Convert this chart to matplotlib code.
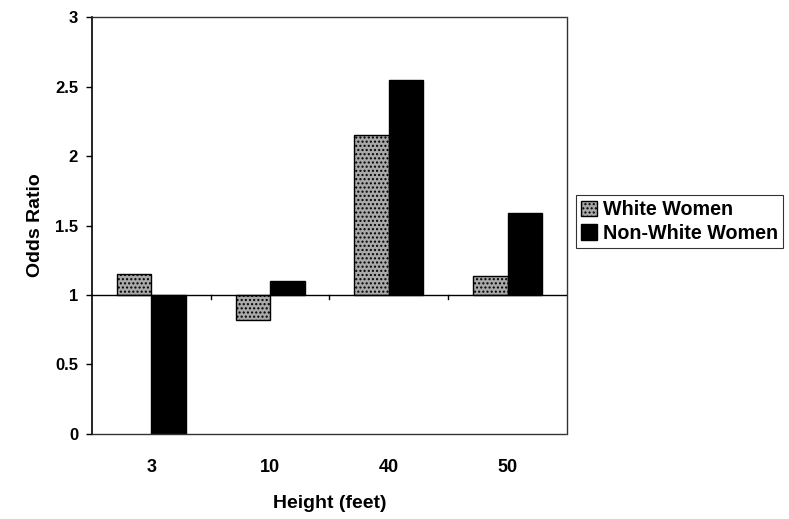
import numpy as np
import matplotlib
matplotlib.use('Agg')
import matplotlib.pyplot as plt

plt.rcParams['font.family'] = ['Liberation Sans Narrow', 'Liberation Sans', 'DejaVu Sans']
plt.rcParams['font.weight'] = 'bold'

heights = ['3', '10', '40', '50']
white_women = [1.15, 0.82, 2.15, 1.14]
nonwhite_women = [0.0, 1.10, 2.55, 1.59]
y_ticks = [0, 0.5, 1, 1.5, 2, 2.5, 3]
y_labels = ['0', '0.5', '1', '1.5', '2', '2.5', '3']
baseline = 1.0

fig = plt.figure(figsize=(7.89, 5.19), dpi=100)
ax = fig.add_axes([0.1166, 0.1638, 0.602, 0.8034])

x = np.arange(len(heights))
w = 0.29
ax.bar(x - w / 2, np.array(white_women) - baseline, w, bottom=baseline,
       color='#a9a9a9', edgecolor='black', linewidth=1.0, hatch='....',
       label='White Women')
ax.bar(x + w / 2, np.array(nonwhite_women) - baseline, w, bottom=baseline,
       color='black', edgecolor='black', linewidth=1.0,
       label='Non-White Women')

# category axis crosses at 1, with divider ticks between categories
ax.axhline(baseline, color='black', linewidth=1.0, zorder=3)
for xd in x[:-1] + 0.5:
    ax.plot([xd, xd], [baseline, baseline - 0.03], color='black',
            linewidth=1.0, zorder=3)

ax.set_xlim(-0.5, len(heights) - 0.5)
ax.set_ylim(0, 3)
ax.set_yticks(y_ticks)
ax.set_yticklabels(y_labels, fontsize=12, fontweight='bold')
ax.set_xticks(x)
ax.set_xticklabels(heights, fontsize=13, fontweight='bold')
ax.tick_params(axis='x', length=0, pad=18)
ax.tick_params(axis='y', length=4, width=1, direction='out', pad=6)

for side in ['top', 'right', 'bottom']:
    ax.spines[side].set_linestyle((0, (1, 1)))
    ax.spines[side].set_color('#333333')
    ax.spines[side].set_linewidth(1.0)
ax.spines['left'].set_linewidth(1.2)

ax.set_xlabel('Height (feet)', fontsize=14, fontweight='bold', labelpad=14)
ax.set_ylabel('Odds Ratio', fontsize=14, fontweight='bold', labelpad=8)

leg = fig.legend(loc='upper left', bbox_to_anchor=(576 / 789, 1 - 195 / 519),
                 frameon=True, fancybox=False, edgecolor='black',
                 handlelength=0.8, handleheight=0.8, handletextpad=0.3,
                 borderpad=0.25, labelspacing=0.25, borderaxespad=0,
                 prop={'family': ['Liberation Sans', 'DejaVu Sans'],
                       'weight': 'bold', 'size': 14.2})
leg.get_frame().set_linewidth(0.8)

fig.savefig('out.png', dpi=100)
